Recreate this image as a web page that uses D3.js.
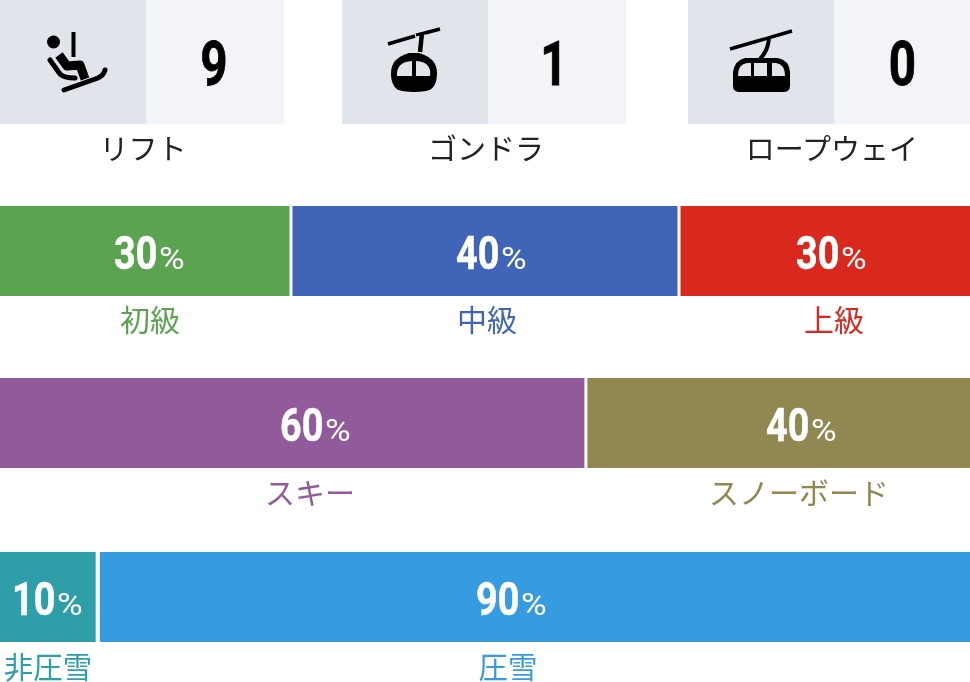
<!DOCTYPE html>
<html><head><meta charset="utf-8">
<script src="https://cdn.jsdelivr.net/npm/d3@7/dist/d3.min.js"></script>
<style>html,body{margin:0;padding:0;background:#fff;overflow:hidden}svg{display:block;filter:blur(0.7px)}</style>
</head><body><div id="c"></div>
<script>
const W=970,H=682;
const liftNames=["リフト","ゴンドラ","ロープウェイ"];
const liftCounts=[9,1,0];
const levelNames=["初級","中級","上級"];
const levelShares=[30,40,30];
const levelWidths=[30,40,30];
const levelColors=["#5ba351","#4065b8","#d9281e"];
const riderNames=["スキー","スノーボード"];
const riderShares=[60,40];
const riderWidths=[60.4,39.6];
const riderColors=["#915b9b","#918851"];
const grooveNames=["非圧雪","圧雪"];
const grooveShares=[10,90];
const grooveWidths=[10.08,89.92];
const grooveColors=["#2e9fa8","#379be0"];

const JP="'Noto Sans CJK JP','Noto Sans',sans-serif";
const NUM="'Roboto',sans-serif";
const svg=d3.select("#c").append("svg").attr("width",W).attr("height",H);
const x=d3.scaleLinear().domain([0,100]).range([0,W]);

const panelX=[[0,146,284],[342,488,626],[688,834,970]];
const labelX=[143,486,832], numX=[214,554,902.5];
const stroke=(g,d,w,cap)=>g.append("path").attr("d",d).attr("stroke","#000").attr("stroke-width",w).attr("fill","none").attr("stroke-linecap",cap||"butt").attr("stroke-linejoin","round");
const icons=[
 g=>{ g.append("circle").attr("cx",53.5).attr("cy",42).attr("r",6.5).attr("fill","#000");
  stroke(g,"M73.5 32V57",4);
  stroke(g,"M59 55L67 66L80 65L85 79",9);
  stroke(g,"M50 60L60 74Q64 78 75 78",5,"round");
  stroke(g,"M64 90L98 78Q104 75 105 70",5,"round"); },
 g=>{ stroke(g,"M388 44L415 36M425 33L440 29",3.5);
  stroke(g,"M422 33L420 52",4.5);
  stroke(g,"M416 35L428 32",3);
  g.append("path").attr("d","M409 53Q391 58 391 73Q391 89 402 91Q414 93 426 91Q437 89 437 73Q437 58 419 53Z").attr("fill","#000");
  g.append("path").attr("d","M397 76Q396 62 412 61V76ZM416 61Q432 62 430 76H416Z").attr("fill","#e1e4ea"); },
 g=>{ stroke(g,"M730 49L792 31",3.5);
  stroke(g,"M769 38Q768 51 760 59",4);
  g.append("path").attr("d","M745 58H778Q789 60 790 72V86Q790 92 783 92H740Q733 92 733 86V72Q735 60 745 58Z").attr("fill","#000");
  g.append("path").attr("d","M738 76Q738 64 747 63H751V76ZM754 63H767V76H754ZM772 63H776Q785 64 785 76H772Z").attr("fill","#e1e4ea"); }
];
liftNames.forEach((n,i)=>{
 const g=svg.append("g");
 const [a,b,c]=panelX[i];
 g.append("rect").attr("x",a).attr("y",0).attr("width",b-a).attr("height",124).attr("fill","#e1e4ea");
 g.append("rect").attr("x",b).attr("y",0).attr("width",c-b).attr("height",124).attr("fill","#f2f4f7");
 icons[i](g);
 g.append("text").attr("transform",`translate(${numX[i]},85) scale(.78,1)`).attr("text-anchor","middle")
  .attr("font-family",NUM).attr("font-weight",700).attr("font-size",61).attr("fill","#000").attr("stroke","#000").attr("stroke-width",.8).text(liftCounts[i]);
 g.append("text").attr("x",labelX[i]).attr("y",160).attr("text-anchor","middle")
  .attr("font-family",JP).attr("font-weight",400).attr("font-size",29).attr("fill","#222").text(n);
});

function row(names,shares,widths,colors,y0,gap,labelCx,labelY,size,pctLeft){
 const st=d3.cumsum(widths);
 const g=svg.append("g");
 names.forEach((n,i)=>{
  const s=i?st[i-1]:0,e=st[i];
  const left=x(s)+(i?gap/2:0), right=x(e)-(i<names.length-1?gap/2:0);
  g.append("rect").attr("x",left).attr("y",y0).attr("width",right-left).attr("height",90).attr("fill",colors[i]);
  g.append("text").attr("transform",`translate(${pctLeft[i]},${y0+63}) scale(.82,1)`)
   .attr("fill","#fff").attr("stroke","#fff").attr("stroke-width",.5).attr("font-family",NUM).attr("font-weight",700).attr("font-size",46).text(shares[i]);
  g.append("text").attr("transform",`translate(${pctLeft[i]+45},${y0+63}) scale(1.13,1)`)
   .attr("fill","#fff").attr("font-family",NUM).attr("font-weight",400).attr("font-size",31).text("%");
  g.append("text").attr("x",labelCx[i]).attr("y",labelY).attr("text-anchor","middle")
   .attr("font-family",JP).attr("font-weight",400).attr("font-size",size).attr("fill",colors[i]).text(n);
 });
}
row(levelNames,levelShares,levelWidths,levelColors,206,3,[150,487,834],331,30,[114,456,796]);
row(riderNames,riderShares,riderWidths,riderColors,378,3,[310,799],504,30,[280,766]);
row(grooveNames,grooveShares,grooveWidths,grooveColors,552,4.2,[48,508],678,29.5,[12,476]);
</script></body></html>
